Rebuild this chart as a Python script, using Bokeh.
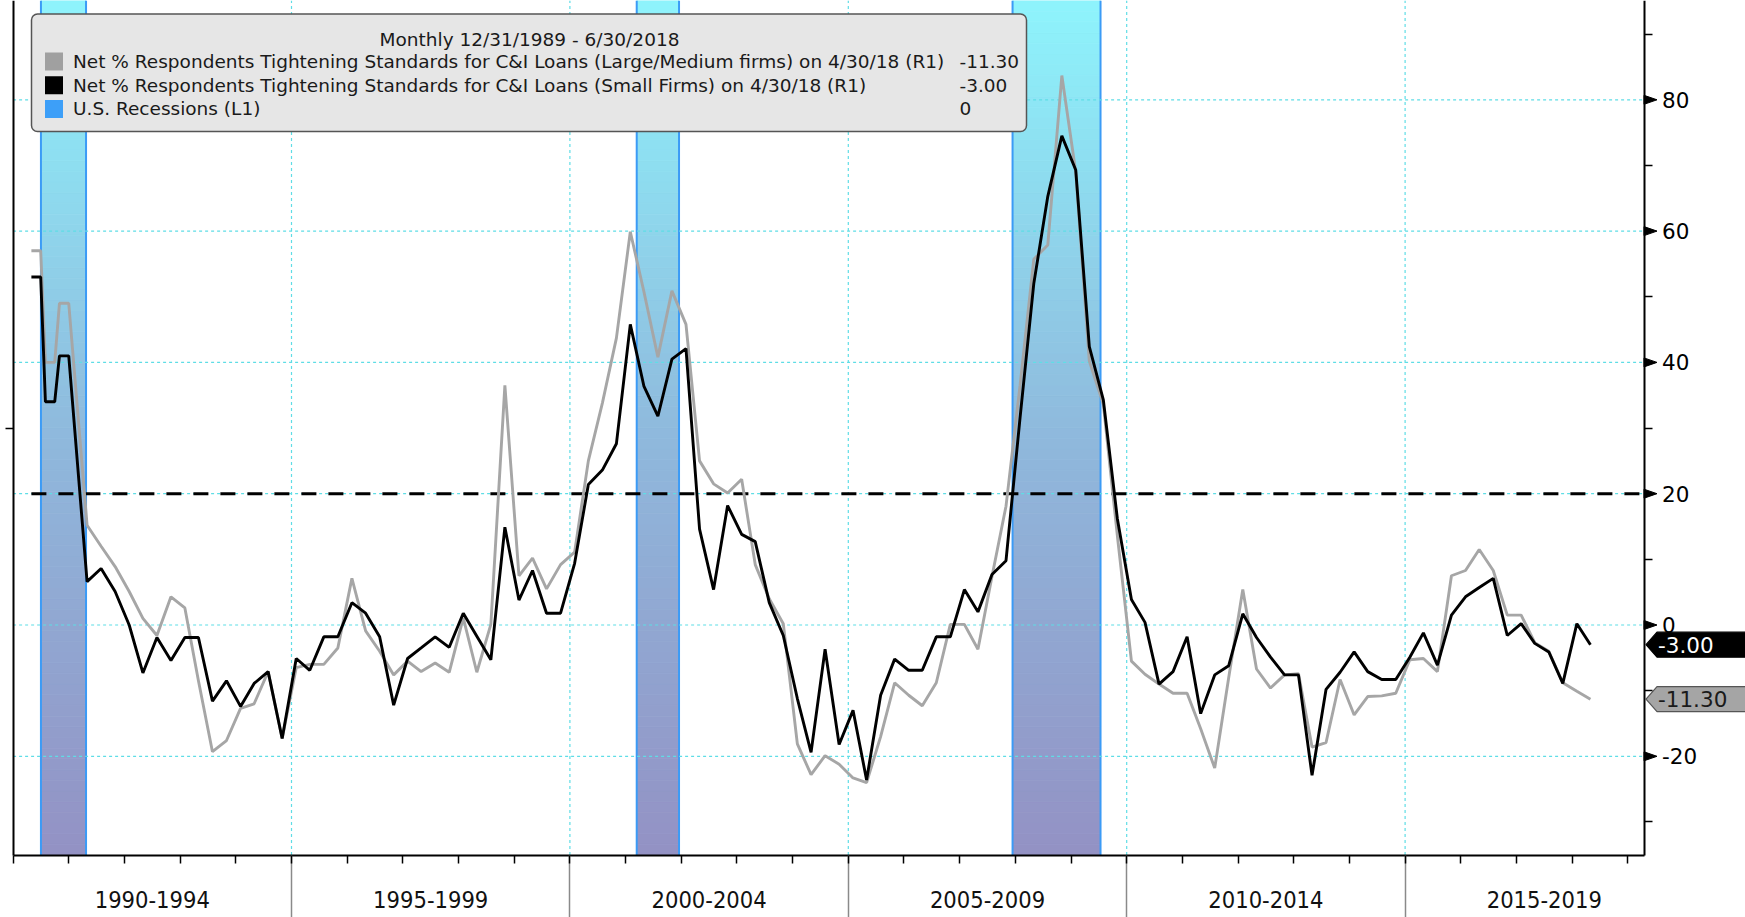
import numpy as np
import pandas as pd
from bokeh.plotting import figure
from bokeh.models import Range1d, LinearAxis, FixedTicker, ColumnDataSource, Label, BoxAnnotation
from bokeh.core.properties import value
from bokeh.embed import file_html
from bokeh.resources import INLINE

# ---------------- data ----------------
early_dates = ["1990-04-30", "1990-06-30", "1990-07-31", "1990-09-30", "1990-10-31", "1990-12-31"]
large_early = [57, 57, 40, 40, 49, 49]
small_early = [53, 53, 34, 34, 41, 41]

# quarterly survey points, 4/30/1991 ... 4/30/2018 (Jan, Apr, Jul, Oct)
large_q = [
    15.2, 12.0, 8.9,             # 1991 Apr Jul Oct
    5.1, 1.0, -1.6, 4.3,         # 1992
    2.6, -8.5, -19.3, -17.6,     # 1993
    -12.7, -12.0, -7.1, -17.3,   # 1994
    -6.5, -6.0, -6.0, -3.5,      # 1995
    7.1, -0.9, -4.0, -7.6,       # 1996
    -5.5, -7.1, -5.8, -7.2,      # 1997
    1.1, -7.2, 0.1, 36.5,        # 1998
    7.5, 10.2, 5.5, 9.2,         # 1999
    11.1, 25.0, 33.8, 43.7,      # 2000
    59.9, 50.8, 40.8, 50.9,      # 2001
    45.8, 25.0, 21.5, 20.1,      # 2002
    22.2, 9.2, 4.0, 0.2,         # 2003
    -18.1, -22.8, -19.9, -21.2,  # 2004
    -23.3, -24.0, -17.0, -8.8,   # 2005
    -10.7, -12.3, -8.8, 0.1,     # 2006
    0.1, -3.7, 7.4, 18.1,        # 2007
    36.5, 55.7, 57.9, 83.7,      # 2008
    69.0, 40.2, 33.6, 13.6,      # 2009
    -5.5, -7.5, -9.0, -10.4,     # 2010
    -10.4, -15.8, -21.8, -8.0,   # 2011
    5.4, -6.7, -9.6, -7.6,       # 2012
    -7.4, -18.6, -17.9, -8.3,    # 2013
    -13.7, -10.9, -10.8, -10.4,  # 2014
    -5.3, -5.1, -7.1, 7.5,       # 2015
    8.3, 11.5, 8.3, 1.5,         # 2016
    1.5, -2.7, -4.0, -8.8,       # 2017
    -10.1, -11.3,                # 2018
]
small_q = [
    6.6, 8.6, 5.1,
    0.0, -7.3, -1.9, -5.4,
    -1.9, -1.9, -11.6, -8.5,
    -12.4, -8.9, -7.1, -17.3,
    -5.1, -6.9, -1.8, -1.8,
    3.4, 1.8, -1.8, -12.2,
    -5.1, -3.5, -1.8, -3.4,
    1.8, -1.7, -5.3, 14.9,
    3.8, 8.3, 1.8, 1.8,
    9.4, 21.4, 23.6, 27.6,
    45.8, 36.4, 31.8, 40.5,
    42.1, 14.6, 5.4, 18.2,
    13.8, 12.7, 3.4, -1.6,
    -11.2, -19.4, -3.7, -18.2,
    -13.0, -23.6, -10.7, -5.2,
    -6.9, -6.9, -1.8, -1.8,
    5.4, 2.0, 7.7, 9.8,
    31.6, 52.0, 65.3, 74.5,
    69.3, 42.4, 34.3, 16.2,
    3.9, 0.4, -9.0, -7.1,
    -1.8, -13.5, -7.6, -6.2,
    1.7, -1.9, -4.9, -7.6,
    -7.6, -22.9, -9.8, -7.2,
    -4.1, -7.1, -8.3, -8.3,
    -4.9, -1.2, -6.1, 1.5,
    4.3, 5.7, 7.1, -1.6,
    0.2, -2.8, -4.1, -8.9,
    0.2, -3.0,
]

rec_start = [1990.50, 2001.20, 2007.95]
rec_end = [1991.31, 2001.96, 2009.53]
threshold = 20

right_ticks = [-20, 0, 20, 40, 60, 80]
right_minor = [-30, -10, 10, 30, 50, 70, 90]
right_labels = ["-20", "0", "20", "40", "60", "80"]
left_ticks = [30]
sep_years = [1995, 2000, 2005, 2010, 2015]
year_ticks = list(range(1990, 2020))
group_labels = ["1990-1994", "1995-1999", "2000-2004", "2005-2009", "2010-2014", "2015-2019"]
group_centers = [1992.5, 1997.5, 2002.5, 2007.5, 2012.5, 2017.5]

legend_title = "Monthly 12/31/1989 - 6/30/2018"
legend_names = [
    "Net % Respondents Tightening Standards for C&I Loans (Large/Medium firms) on 4/30/18 (R1)",
    "Net % Respondents Tightening Standards for C&I Loans (Small Firms) on 4/30/18 (R1)",
    "U.S. Recessions (L1)",
]
legend_values = ["-11.30", "-3.00", "0"]
legend_colors = ["#a0a0a0", "#000000", "#3d9ff8"]

# ---------------- dates ----------------
def dec_year(ts):
    ts = pd.to_datetime(ts)
    return [d.year + d.dayofyear / 365.25 for d in ts]

q_dates = pd.date_range("1991-04-30", "2018-04-30", freq=pd.offsets.MonthEnd(3))
dates = dec_year(early_dates) + dec_year(q_dates)
large = large_early + large_q
small = small_early + small_q

# ---------------- geometry (canvas pixels) ----------------
W, H = 1745, 917
PXY = 55.68        # px per year
PXU = 6.565        # px per unit
X1990 = 12.6       # px of 1990
Y0 = 624.5         # px of value 0

def xd(px):
    return 1990 + (px - X1990) / PXY

def yd(py):
    return (Y0 - py) / PXU

x_start, x_end = xd(0), xd(W)
y_top, y_bot = yd(0), yd(H)
AX_R = xd(1643.5)
AX_B = yd(854.5)

p = figure(width=W, height=H, x_range=Range1d(x_start, x_end), y_range=Range1d(y_bot, y_top),
           x_axis_type=None, y_axis_type=None, output_backend="svg", toolbar_location=None,
           min_border=0, min_border_left=0, min_border_right=0, min_border_top=0, min_border_bottom=0,
           outline_line_color=None, background_fill_color="white", border_fill_color="white")

# recession bars with vertical gradient
stops = [(0.0, (147, 145, 196)), (0.5, (143, 186, 221)), (1.0, (142, 244, 252))]
def grad(f):
    for (f0, c0), (f1, c1) in zip(stops[:-1], stops[1:]):
        if f <= f1:
            t = (f - f0) / (f1 - f0)
            c = [round(a + (b - a) * t) for a, b in zip(c0, c1)]
            return "#%02x%02x%02x" % tuple(c)
    return "#%02x%02x%02x" % stops[-1][1]

N = 80
edges = np.linspace(AX_B, y_top, N + 1)
bl, br, bb, bt, bc = [], [], [], [], []
for s, e in zip(rec_start, rec_end):
    for k in range(N):
        bl.append(s); br.append(e); bb.append(edges[k]); bt.append(edges[k + 1])
        bc.append(grad((k + 0.5) / N))
p.quad(left="left", right="right", bottom="bottom", top="top", fill_color="color", line_color="color",
       line_width=0.8, source=ColumnDataSource(dict(left=bl, right=br, bottom=bb, top=bt, color=bc)))
p.segment(x0=rec_start + rec_end, x1=rec_start + rec_end, y0=AX_B, y1=y_top, line_color="#3b9bf6", line_width=2)

# grid lines
grid_color = "#5fdde6"
p.segment(x0=1990, x1=AX_R, y0=right_ticks, y1=right_ticks, line_color=grid_color, line_width=1.2, line_dash="3 3")
p.segment(x0=sep_years, x1=sep_years, y0=AX_B, y1=y_top, line_color=grid_color, line_width=1.2, line_dash="3 3")

# threshold dashed line
p.line([dates[0], AX_R], [threshold, threshold], line_color="black", line_width=3, line_dash="15 12")

# series
p.line(dates, large, line_color="#a6a6a6", line_width=2.9)
p.line(dates, small, line_color="black", line_width=2.9)

# axes
xax = LinearAxis(fixed_location=AX_B, bounds=(1990, AX_R),
                 ticker=FixedTicker(ticks=sep_years, minor_ticks=year_ticks),
                 major_tick_out=64, major_tick_in=0, major_tick_line_color="#8a8a8a", major_tick_line_width=1.5,
                 minor_tick_out=8, minor_tick_in=0, minor_tick_line_color="black", minor_tick_line_width=1.5,
                 axis_line_color="black", axis_line_width=2,
                 major_label_overrides={v: "" for v in sep_years}, major_label_text_font_size="0px")
p.add_layout(xax, "below")

lax = LinearAxis(fixed_location=1990, bounds=(AX_B, y_top),
                 ticker=FixedTicker(ticks=left_ticks, minor_ticks=[]),
                 major_tick_out=8, major_tick_in=0, major_tick_line_width=1.5,
                 axis_line_color="black", axis_line_width=2,
                 major_label_overrides={v: "" for v in left_ticks}, major_label_text_font_size="0px")
p.add_layout(lax, "left")

rax = LinearAxis(fixed_location=AX_R, bounds=(AX_B, y_top),
                 ticker=FixedTicker(ticks=right_ticks, minor_ticks=right_minor),
                 major_tick_out=0, major_tick_in=0, minor_tick_out=8, minor_tick_in=0,
                 minor_tick_line_width=1.3, axis_line_color="black", axis_line_width=2,
                 major_label_overrides={v: "" for v in right_ticks}, major_label_text_font_size="0px")
p.add_layout(rax, "right")

# right-axis tick labels and triangle tick markers
p.text(x=[AX_R + 18 / PXY] * len(right_ticks), y=right_ticks, text=right_labels,
       text_font=value("DejaVu Sans"), text_font_size="21.5px", text_color="black",
       text_align="left", text_baseline="middle")
p.patches(xs=[[AX_R, AX_R + 13 / PXY, AX_R] for t in right_ticks],
          ys=[[t + 4.5 / PXU, t, t - 4.5 / PXU] for t in right_ticks],
          fill_color="black", line_color="black", line_width=1)

# last-value tags
last_vals = [large[-1], small[-1]]
tag_fill = ["#a5a5a5", "#000000"]
tag_line = ["#555555", "#000000"]
tag_text_color = ["#1a1a1a", "#ffffff"]
hh = 12.5 / PXU
tip, body, right_edge = AX_R + 2 / PXY, AX_R + 13 / PXY, x_end + 1
p.patches(xs=[[tip, body, right_edge, right_edge, body] for v in last_vals],
          ys=[[v, v + hh, v + hh, v - hh, v - hh] for v in last_vals],
          fill_color=tag_fill, line_color=tag_line, line_width=1.2)
p.text(x=[AX_R + 14 / PXY] * 2, y=last_vals, text=["%.2f" % v for v in last_vals],
       text_color=tag_text_color, text_font=value("DejaVu Sans"), text_font_size="21.5px",
       text_align="left", text_baseline="middle")

# category labels under the axis
p.text(x=group_centers, y=[yd(899)] * len(group_centers), text=group_labels,
       text_font=value("DejaVu Sans Condensed, Roboto"), text_font_size="23.5px", text_color="#111111",
       text_align="center", text_baseline="middle")

# legend box
p.add_layout(BoxAnnotation(left=xd(31), right=xd(1026), top=yd(13.5), bottom=yd(131),
                           fill_color="#e6e6e6", fill_alpha=1, line_color="#555555", line_alpha=1,
                           line_width=1.5, border_radius=6))
p.add_layout(Label(x=xd(529), y=yd(39), text=legend_title, text_align="center", text_baseline="middle",
                   text_font="DejaVu Sans", text_font_size="18.5px", text_color="#1a1a1a"))
row_y = [61, 84.7, 108.4]
for ry, name, val, col in zip(row_y, legend_names, legend_values, legend_colors):
    p.add_layout(BoxAnnotation(left=xd(44.5), right=xd(62.5), top=yd(ry - 9), bottom=yd(ry + 9),
                               fill_color=col, fill_alpha=1, line_color=None))
    p.add_layout(Label(x=xd(72.5), y=yd(ry), text=name, text_align="left", text_baseline="middle",
                       text_font="DejaVu Sans", text_font_size="18.5px", text_color="#1a1a1a"))
    p.add_layout(Label(x=xd(959), y=yd(ry), text=val, text_align="left", text_baseline="middle",
                       text_font="DejaVu Sans", text_font_size="18.5px", text_color="#1a1a1a"))

open("out.html", "w").write(file_html(p, INLINE))
